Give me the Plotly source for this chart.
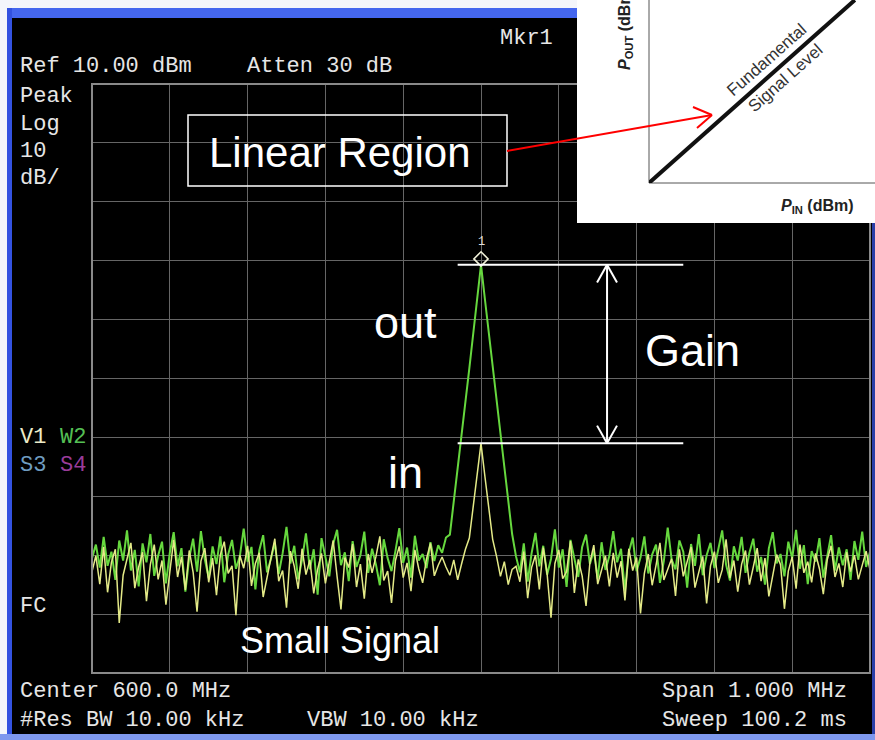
import numpy as np
import plotly.graph_objects as go

# ---------------- data ----------------
center_mhz = 600.0
span_mhz = 1.0
ref_dbm = 10.0
db_per_div = 10.0
n_div = 10

out_left = [-70.5, -68.2, -72.1, -66.9, -71.8, -69.4, -74.2, -67.5, -70.9, -65.8, -72.6, -69.1, -75.3, -68.0, -71.2, -66.4, -73.5, -70.1, -67.7, -74.8,
            -69.6, -66.1, -71.9, -68.8, -76.2, -70.4, -67.2, -72.8, -65.9, -70.7, -73.9, -68.5, -71.5, -66.8, -74.6, -69.9, -67.4, -72.3, -70.2, -65.5,
            -71.1, -68.6, -75.8, -69.2, -66.6, -72.9, -70.6, -67.9, -73.2, -69.7, -65.2, -71.4, -68.4, -74.1, -70.8, -66.3, -72.4, -69.0, -76.7, -67.1,
            -70.3, -73.6, -68.1, -65.7, -71.7, -69.5, -74.4, -67.6, -72.0, -70.0, -66.0, -73.0, -68.9, -71.6, -75.1, -67.3, -70.5, -72.7, -69.3, -65.4,
            -71.3, -68.7, -73.8, -66.7, -70.9, -69.8, -72.2, -67.8, -71.0, -68.3, -69.6, -67.0]
out_peak = [-66.5, -61.0, -55.5, -50.0, -44.2, -38.3, -32.4, -26.6, -20.7, -26.5, -32.3, -38.2, -44.1, -49.9, -55.6, -61.2, -66.4]
out_right = [-70.2, -72.9, -68.0, -74.5, -69.7, -66.2, -71.9, -68.4, -73.3, -70.6, -65.6, -72.1, -69.0, -75.4, -67.4, -70.8, -73.7, -68.6, -66.5, -71.5,
             -69.2, -74.0, -67.8, -72.5, -70.1, -65.9, -71.2, -68.9, -76.0, -69.5, -67.0, -72.7, -70.4, -66.8, -73.1, -69.9, -68.2, -74.7, -71.0, -65.3,
             -70.7, -72.4, -67.5, -69.4, -75.5, -68.1, -71.8, -66.4, -73.4, -70.0, -67.9, -72.2, -69.1, -65.8, -71.6, -74.3, -68.5, -70.9, -66.9, -73.0,
             -69.6, -67.2, -72.8, -70.3, -75.0, -68.8, -66.1, -71.4, -69.8, -73.6, -67.7, -70.5, -65.7, -72.3, -68.3, -74.9, -69.3, -71.1, -67.1, -73.8,
             -70.2, -66.6, -72.6, -68.7, -71.7, -69.0, -74.2, -67.6, -70.8, -66.0, -72.0, -69.4]

in_left = [-72.8, -70.1, -74.9, -68.6, -76.3, -71.2, -69.0, -81.5, -73.4, -70.7, -67.9, -75.6, -72.0, -69.5, -77.8, -71.6, -68.2, -74.1, -70.9, -78.4,
           -72.5, -67.4, -73.7, -70.3, -75.9, -69.2, -72.9, -79.6, -71.0, -68.8, -74.6, -70.5, -76.8, -69.9, -67.7, -73.1, -71.8, -80.2, -70.0, -72.2,
           -68.4, -75.2, -71.4, -69.6, -77.1, -73.9, -70.6, -67.2, -74.4, -72.6, -78.9, -69.3, -71.9, -75.7, -68.9, -73.3, -70.8, -76.5, -72.4, -69.7,
           -74.8, -71.1, -67.5, -73.6, -79.2, -70.4, -72.1, -68.1, -75.4, -71.5, -77.4, -69.8, -73.0, -70.2, -66.8, -74.3, -72.7, -78.1, -70.9, -68.5,
           -73.8, -71.3, -76.1, -69.1, -72.3, -74.7, -70.6, -68.0, -73.5, -71.7, -70.3, -72.0]
in_peak = [-73.4, -70.8, -74.2, -71.5, -69.0, -67.1, -62.0, -56.5, -51.0, -56.6, -62.1, -67.3, -70.2, -73.6, -71.1, -75.0, -72.4]
in_right = [-71.9, -74.5, -69.4, -77.3, -72.1, -70.0, -75.8, -68.7, -73.2, -80.6, -71.4, -69.1, -74.0, -72.8, -67.6, -76.4, -70.7, -73.5, -78.6, -71.2,
            -68.3, -74.9, -72.4, -70.1, -75.3, -69.6, -73.8, -71.0, -77.7, -68.9, -72.6, -70.4, -79.9, -73.1, -69.8, -75.1, -71.7, -67.9, -74.2, -72.2,
            -70.6, -76.9, -69.0, -73.6, -71.3, -68.6, -75.5, -72.9, -70.2, -78.2, -71.8, -69.4, -74.7, -72.5, -67.3, -73.9, -70.9, -76.2, -71.5, -69.2,
            -75.0, -72.0, -68.8, -74.4, -70.5, -77.0, -73.3, -69.9, -71.6, -79.1, -72.7, -70.3, -75.7, -68.2, -73.0, -71.1, -74.6, -69.7, -72.3, -76.6,
            -70.8, -68.4, -73.7, -71.4, -75.4, -69.5, -72.8, -70.0, -74.1, -71.9, -69.3, -72.5]

out_trace = out_left + out_peak + out_right
in_trace = in_left + in_peak + in_right

# inset transfer curve (P_IN vs P_OUT, linear region)
pin_dbm = [0, 10]
pout_dbm = [0, 10]

# annotation extents for the gain marker lines (MHz)
gain_line_x = [599.97, 600.26]
gain_arrow_x = 600.162

# ---------------- helpers ----------------
W, H = 875, 740
def px(x):
    return x / W
def py(y):
    return 1 - y / H

freq = np.linspace(center_mhz - span_mhz / 2, center_mhz + span_mhz / 2, len(out_trace))
y_top = ref_dbm
y_bot = ref_dbm - db_per_div * n_div

fig = go.Figure()

fig.add_trace(go.Scatter(x=freq, y=out_trace, mode="lines",
                         line=dict(color="#66d83e", width=2.0), hoverinfo="skip", showlegend=False))
fig.add_trace(go.Scatter(x=freq, y=in_trace, mode="lines",
                         line=dict(color="#e4ea88", width=1.5), hoverinfo="skip", showlegend=False))

peak_out = max(out_trace)
peak_in = max(in_trace)
f_peak = freq[int(np.argmax(out_trace))]

# marker 1 diamond
fig.add_trace(go.Scatter(x=[f_peak], y=[peak_out + 1.0], mode="markers",
                         marker=dict(symbol="diamond-open", size=11, color="#f0f0d8", line=dict(width=1.6, color="#f0f0d8")),
                         hoverinfo="skip", showlegend=False))

fig.update_layout(
    width=W, height=H,
    margin=dict(l=0, r=0, t=0, b=0),
    paper_bgcolor="#000000", plot_bgcolor="#000000",
    showlegend=False,
    xaxis=dict(domain=[px(92), px(870)], range=[center_mhz - span_mhz / 2, center_mhz + span_mhz / 2],
               tick0=center_mhz - span_mhz / 2, dtick=span_mhz / n_div, showticklabels=False,
               showgrid=True, gridcolor="#666666", gridwidth=1, zeroline=False, ticks=""),
    yaxis=dict(domain=[py(673), py(84)], range=[y_bot, y_top], tick0=y_bot, dtick=db_per_div,
               showticklabels=False, showgrid=True, gridcolor="#666666", gridwidth=1, zeroline=False, ticks=""),
    xaxis2=dict(domain=[px(649), 1.0], range=[0, 10.98], anchor="y2", showgrid=False, zeroline=False,
                showticklabels=False, ticks=""),
    yaxis2=dict(domain=[py(183), 1.0], range=[0, 10], anchor="x2", showgrid=False, zeroline=False,
                showticklabels=False, ticks=""),
)

shapes = []
# instrument frame
shapes.append(dict(type="rect", xref="paper", yref="paper", x0=0, x1=1, y0=py(8), y1=1,
                   fillcolor="#f4f6fb", line=dict(width=0), layer="above"))
shapes.append(dict(type="rect", xref="paper", yref="paper", x0=0, x1=1, y0=py(18), y1=py(8),
                   fillcolor="#4466ee", line=dict(width=0), layer="above"))
shapes.append(dict(type="rect", xref="paper", yref="paper", x0=0, x1=px(7), y0=0, y1=1,
                   fillcolor="#f4f6fb", line=dict(width=0), layer="above"))
shapes.append(dict(type="rect", xref="paper", yref="paper", x0=px(7), x1=px(12), y0=0, y1=py(8),
                   fillcolor="#3352e0", line=dict(width=0), layer="above"))
shapes.append(dict(type="rect", xref="paper", yref="paper", x0=px(872), x1=1, y0=0, y1=py(8),
                   fillcolor="#2a3fa8", line=dict(width=0), layer="above"))
shapes.append(dict(type="rect", xref="paper", yref="paper", x0=0, x1=1, y0=0, y1=py(734),
                   fillcolor="#7e98ee", line=dict(width=0), layer="above"))
# graticule border
shapes.append(dict(type="rect", xref="x domain", yref="y domain", x0=0, x1=1, y0=0, y1=1,
                   line=dict(color="#8a8a8a", width=2), layer="above"))

# gain lines and double arrow
for lvl in (peak_out, peak_in):
    shapes.append(dict(type="line", xref="x", yref="y", x0=gain_line_x[0], x1=gain_line_x[1], y0=lvl, y1=lvl,
                       line=dict(color="#ffffff", width=2), layer="above"))
shapes.append(dict(type="line", xref="x", yref="y", x0=gain_arrow_x, x1=gain_arrow_x, y0=peak_out, y1=peak_in,
                   line=dict(color="#ffffff", width=2), layer="above"))
dx = 0.0128
dyh = 3.0
for tip, sgn in ((peak_out, -1), (peak_in, 1)):
    for s in (-1, 1):
        shapes.append(dict(type="line", xref="x", yref="y", x0=gain_arrow_x, y0=tip,
                           x1=gain_arrow_x + s * dx, y1=tip + sgn * dyh,
                           line=dict(color="#ffffff", width=2), layer="above"))

# Linear Region box
shapes.append(dict(type="rect", xref="paper", yref="paper", x0=px(188), x1=px(507), y0=py(186), y1=py(115),
                   line=dict(color="#ffffff", width=1.5), fillcolor="rgba(0,0,0,0)", layer="above"))

# inset panel
shapes.append(dict(type="rect", xref="paper", yref="paper", x0=px(577), x1=1, y0=py(223), y1=1,
                   fillcolor="#ffffff", line=dict(width=0), layer="above"))
shapes.append(dict(type="line", xref="x2 domain", yref="y2 domain", x0=0, x1=0, y0=0, y1=1,
                   line=dict(color="#555555", width=1), layer="above"))
shapes.append(dict(type="line", xref="x2 domain", yref="y2 domain", x0=0, x1=1, y0=0, y1=0,
                   line=dict(color="#555555", width=1), layer="above"))
shapes.append(dict(type="line", xref="x2", yref="y2", x0=pin_dbm[0], y0=pout_dbm[0], x1=pin_dbm[-1], y1=pout_dbm[-1],
                   line=dict(color="#111111", width=4), layer="above"))

# red arrow
shapes.append(dict(type="line", xref="paper", yref="paper", x0=px(507), y0=py(151), x1=px(712), y1=py(115),
                   line=dict(color="#ff0000", width=2), layer="above"))
shapes.append(dict(type="line", xref="paper", yref="paper", x0=px(712), y0=py(115), x1=px(693), y1=py(107),
                   line=dict(color="#ff0000", width=2), layer="above"))
shapes.append(dict(type="line", xref="paper", yref="paper", x0=px(712), y0=py(115), x1=px(697), y1=py(128),
                   line=dict(color="#ff0000", width=2), layer="above"))

fig.update_layout(shapes=shapes)

ann = []
mono = "Liberation Mono"
def mtext(t, x, y, color="#e6e6e6", anchor="left", size=22):
    ann.append(dict(text=t, x=px(x), y=py(y), xref="paper", yref="paper", xanchor=anchor, yanchor="middle",
                    showarrow=False, font=dict(family=mono, size=size, color=color)))

mtext("Mkr1", 498, 38)
mtext("Ref 10.00 dBm", 18, 67)
mtext("Atten 30 dB", 245, 67)
mtext("Peak", 18, 96)
mtext("Log", 18, 124)
mtext("10", 18, 151)
mtext("dB/", 18, 179)
mtext("V1", 18, 437, color="#ecebc8")
mtext("W2", 58, 437, color="#55c055")
mtext("S3", 18, 465, color="#6f9cc0")
mtext("S4", 58, 465, color="#9a3c9a")
mtext("FC", 18, 606)
mtext("Center 600.0 MHz", 18, 691)
mtext("#Res BW 10.00 kHz", 18, 720)
mtext("VBW 10.00 kHz", 305, 720)
mtext("Span 1.000 MHz", 849, 691, anchor="right")
mtext("Sweep 100.2 ms", 849, 720, anchor="right")

# marker number
ann.append(dict(text="1", x=f_peak, y=peak_out, xref="x", yref="y", yshift=23, showarrow=False,
                font=dict(family=mono, size=12, color="#dddddd")))

sans = "Liberation Sans"
def btext(t, x, y, size, color="#ffffff", angle=0, family=sans):
    ann.append(dict(text=t, x=px(x), y=py(y), xref="paper", yref="paper", xanchor="center", yanchor="middle",
                    showarrow=False, textangle=angle, font=dict(family=family, size=size, color=color)))

btext("Linear Region", 340, 152, 42)
btext("out", 405, 322, 45)
btext("Gain", 692, 350, 45)
btext("in", 405, 472, 45)
btext("Small Signal", 340, 640, 36)

# inset texts
btext("Fundamental", 766, 60, 17, color="#333333", angle=-41.6)
btext("Signal Level", 785, 78, 17, color="#333333", angle=-41.6)
btext("<b><i>P</i><sub>OUT</sub> (dBm)</b>", 625, 28, 16, color="#222222", angle=-90)
btext("<b><i>P</i><sub>IN</sub> (dBm)</b>", 817, 207, 16, color="#222222")

fig.update_layout(annotations=ann)

fig.write_html("out.html", config={"displayModeBar": False})
